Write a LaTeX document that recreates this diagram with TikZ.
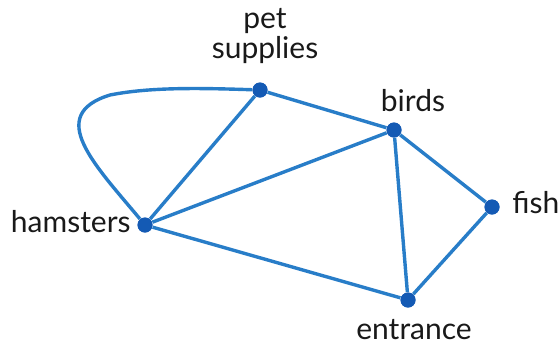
\documentclass[tikz,border=0pt]{standalone}
\usepackage{fontspec}
\setmainfont{Lato}
\definecolor{edgeblue}{RGB}{40,125,200}
\definecolor{dotblue}{RGB}{20,90,180}
\definecolor{txt}{RGB}{25,25,25}
\begin{document}
\begin{tikzpicture}[x=0.5pt,y=-0.5pt,
  vtx/.style={circle,fill=dotblue,inner sep=0pt,minimum size=7.5pt},
  edge/.style={draw=edgeblue,line width=1.7pt},
  lbl/.style={text=txt,font=\fontsize{15}{17}\selectfont,inner sep=0pt,align=center}]
\useasboundingbox (0,0) rectangle (560,349);
\node[vtx] (p) at (260,90) {};
\node[vtx] (b) at (394,130) {};
\node[vtx] (f) at (492,207) {};
\node[vtx] (h) at (145,225) {};
\node[vtx] (e) at (408,300) {};
\node[lbl] (pl) at (265,36) {pet\\[-2pt]supplies};
\node[lbl] (bl) at (413,101) {birds};
\node[lbl,anchor=west] (fl) at (512,203) {fish};
\node[lbl,anchor=east] (hl) at (131,222) {hamsters};
\node[lbl] (el) at (414,330) {entrance};
\draw[edge] (h) .. controls (95,165) and (45,115) .. (110,95) .. controls (150,87) and (200,88) .. (p);
\draw[edge] (h) -- (p);
\draw[edge] (h) -- (b);
\draw[edge] (h) -- (e);
\draw[edge] (p) -- (b);
\draw[edge] (b) -- (f);
\draw[edge] (b) -- (e);
\draw[edge] (f) -- (e);
\node[vtx] at (p) {};
\node[vtx] at (b) {};
\node[vtx] at (f) {};
\node[vtx] at (h) {};
\node[vtx] at (e) {};
\end{tikzpicture}
\end{document}
